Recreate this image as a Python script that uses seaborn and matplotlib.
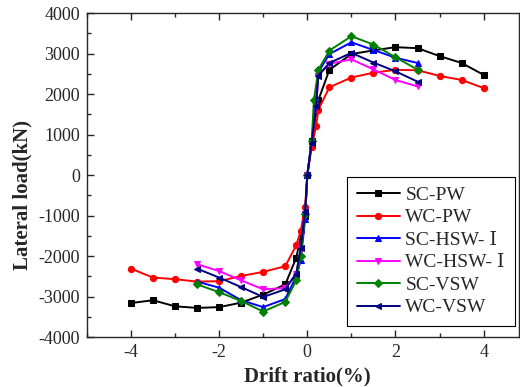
import numpy as np
import pandas as pd
import matplotlib
matplotlib.use("Agg")
import matplotlib.pyplot as plt
from matplotlib.ticker import MultipleLocator
import seaborn as sns

# skeleton curves: drift ratio (%) vs lateral load (kN)
sc_pw_x = [-4, -3.5, -3, -2.5, -2, -1.5, -1, -0.5, -0.25, -0.05, 0, 0.1, 0.25, 0.5, 1, 1.5, 2, 2.5, 3, 3.5, 4]
sc_pw_y = [-3160, -3090, -3240, -3280, -3260, -3150, -2950, -2700, -2040, -1000, 0, 850, 1850, 2600, 2990, 3080, 3160, 3135, 2940, 2770, 2475]

wc_pw_x = [-4, -3.5, -3, -2.5, -2, -1.5, -1, -0.5, -0.25, -0.15, -0.05, 0, 0.1, 0.2, 0.25, 0.5, 1, 1.5, 2, 2.5, 3, 3.5, 4]
wc_pw_y = [-2310, -2530, -2570, -2630, -2620, -2490, -2390, -2250, -1730, -1380, -790, 0, 700, 1220, 1610, 2170, 2410, 2530, 2600, 2590, 2450, 2350, 2150]

sc_hsw_x = [-2.5, -2, -1.5, -1, -0.5, -0.25, -0.15, -0.05, 0, 0.1, 0.2, 0.25, 0.5, 1, 1.5, 2, 2.5]
sc_hsw_y = [-2630, -2780, -3090, -3260, -3060, -2500, -2100, -1090, 0, 850, 1900, 2540, 2990, 3280, 3090, 2900, 2770]

wc_hsw_x = [-2.5, -2, -1.5, -1, -0.5, -0.25, -0.15, -0.05, 0, 0.1, 0.2, 0.25, 0.5, 1, 1.5, 2, 2.5]
wc_hsw_y = [-2200, -2370, -2600, -2820, -2790, -2430, -1830, -950, 0, 800, 1715, 2460, 2750, 2860, 2610, 2350, 2190]

sc_vsw_x = [-2.5, -2, -1.5, -1, -0.5, -0.25, -0.15, -0.05, 0, 0.1, 0.15, 0.25, 0.5, 1, 1.5, 2, 2.5]
sc_vsw_y = [-2700, -2890, -3110, -3370, -3130, -2600, -2000, -970, 0, 850, 1860, 2600, 3077, 3430, 3225, 2910, 2606]

wc_vsw_x = [-2.5, -2, -1.5, -1, -0.5, -0.25, -0.15, -0.05, 0, 0.1, 0.2, 0.25, 0.5, 1, 1.5, 2, 2.5]
wc_vsw_y = [-2310, -2530, -2765, -3010, -2820, -2430, -1800, -900, 0, 800, 1700, 2460, 2770, 3020, 2780, 2564, 2309]

names = ["SC-PW", "WC-PW", "SC-HSW- Ⅰ", "WC-HSW- Ⅰ", "SC-VSW", "WC-VSW"]
xs = [sc_pw_x, wc_pw_x, sc_hsw_x, wc_hsw_x, sc_vsw_x, wc_vsw_x]
ys = [sc_pw_y, wc_pw_y, sc_hsw_y, wc_hsw_y, sc_vsw_y, wc_vsw_y]
colors = ["black", "red", "blue", "magenta", "green", "navy"]
markers = ["s", "o", "^", "v", "D", "<"]

sns.set_style("ticks")
plt.rcParams["font.family"] = ["Liberation Serif", "DejaVu Serif"]

fig = plt.figure(figsize=(5.2, 3.87), dpi=100)
ax = fig.add_axes([0.167, 0.129, 0.831, 0.837])

for name, x, y, c, m in zip(names, xs, ys, colors, markers):
    df = pd.DataFrame({"x": x, "y": y})
    ms = 4 if m == "D" else 4.5
    sns.lineplot(data=df, x="x", y="y", ax=ax, color=c, marker=m, markersize=ms,
                 markeredgecolor=c, linewidth=1.4, label=name)

ax.set_xlim(-5, 4.8)
ax.set_ylim(-4000, 4000)
ax.xaxis.set_major_locator(MultipleLocator(2))
ax.xaxis.set_minor_locator(MultipleLocator(1))
ax.yaxis.set_major_locator(MultipleLocator(1000))
ax.yaxis.set_minor_locator(MultipleLocator(500))
ax.tick_params(which="both", direction="in", top=True, right=False, labelsize=13, width=1)
ax.tick_params(which="major", length=5, pad=5)
ax.tick_params(which="minor", length=3)
for s in ax.spines.values():
    s.set_linewidth(1)
ax.set_xticks([-4, -2, 0, 2, 4])
ax.set_xticklabels(["-4", "-2", "0", "2", "4"])
ax.set_yticklabels([f"{int(v)}" for v in ax.get_yticks()])

ax.set_xlabel("Drift ratio(%)", fontsize=15, fontweight="bold")
ax.set_ylabel("Lateral load(kN)", fontsize=15, fontweight="bold")
ax.xaxis.set_label_coords(0.51, -0.09)
ax.yaxis.set_label_coords(-0.125, 0.44)

leg = ax.legend(loc="lower right", bbox_to_anchor=(0.99, 0.034), fontsize=14,
                frameon=True, fancybox=False, edgecolor="black", framealpha=1,
                handlelength=2.2, labelspacing=0.25, borderpad=0.5, handletextpad=0.3,
                borderaxespad=0)
leg.get_frame().set_linewidth(0.8)

fig.savefig("out.png", dpi=100)
